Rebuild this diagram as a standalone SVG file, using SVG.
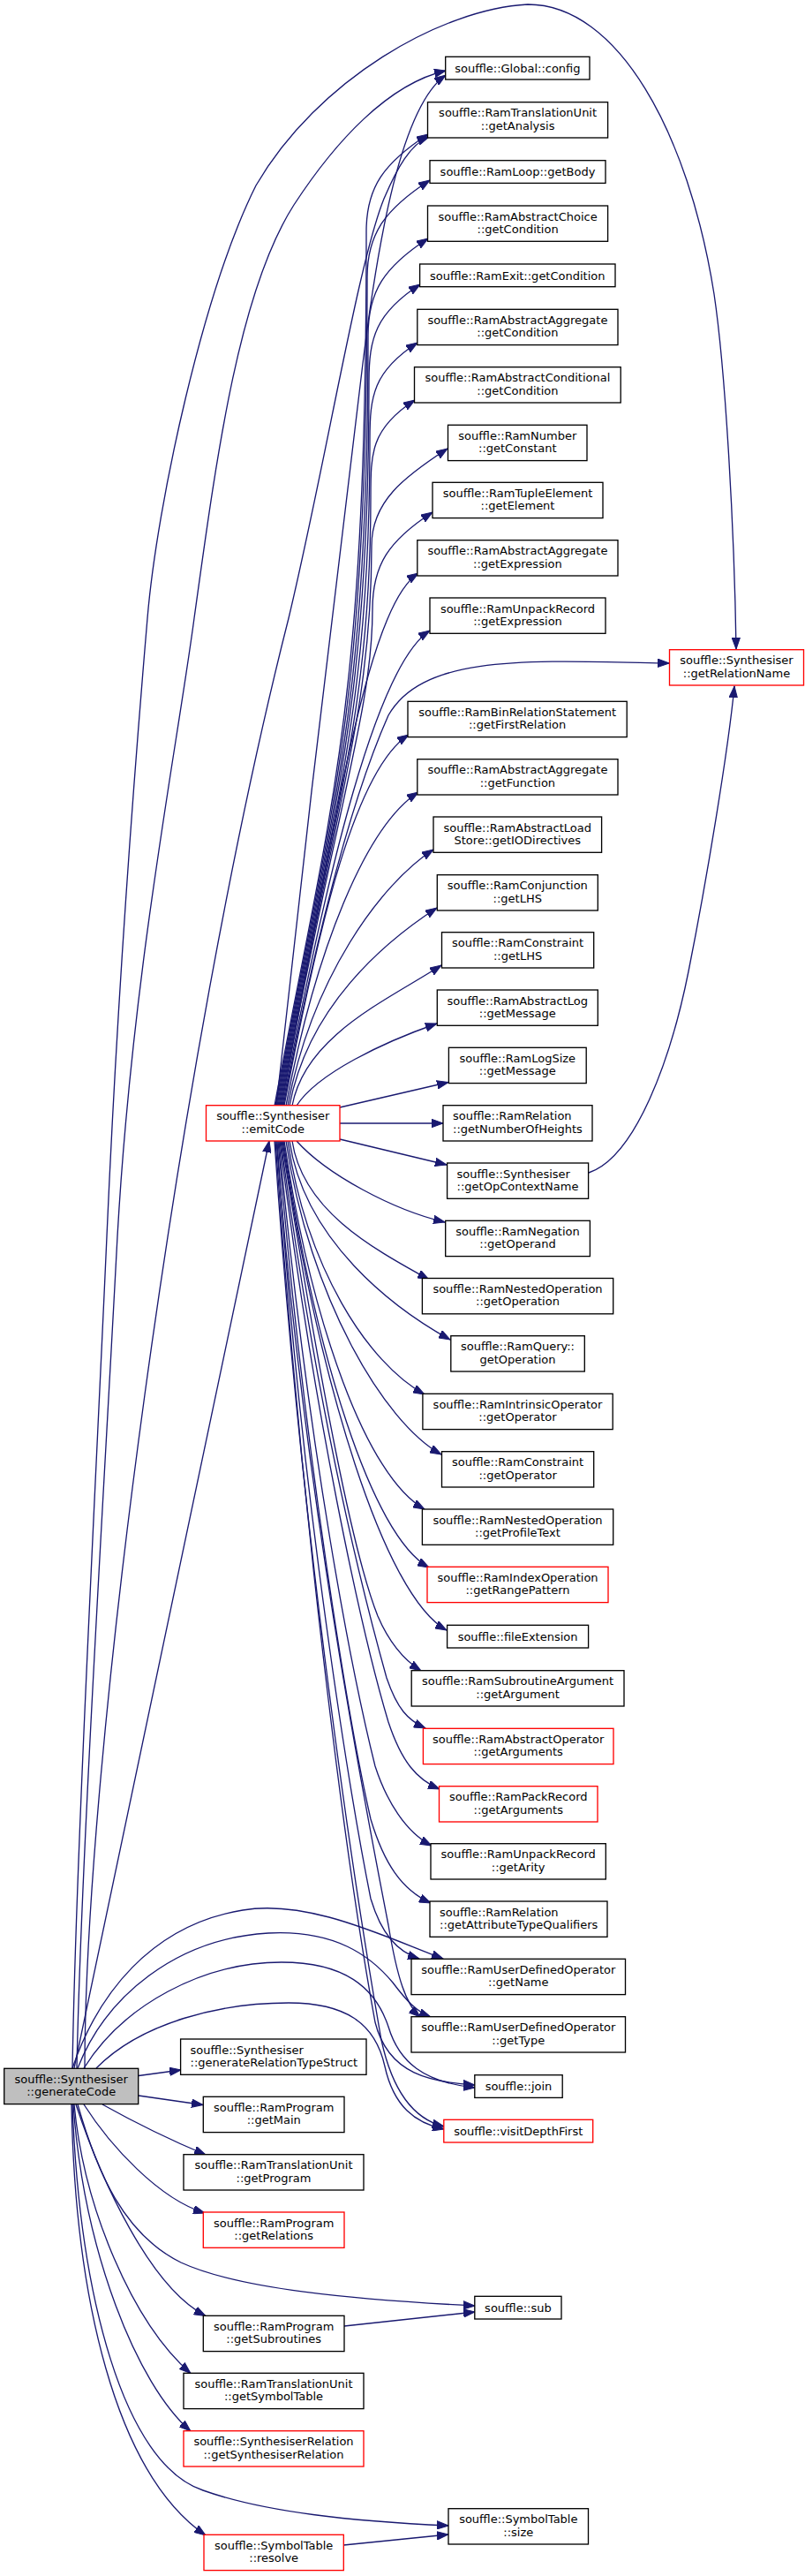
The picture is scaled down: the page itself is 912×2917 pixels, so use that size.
<svg xmlns="http://www.w3.org/2000/svg" width="912" height="2917" viewBox="0 0 912 2917">
<style>
.n rect{fill:#fff;stroke:#000;stroke-width:1.33}
.r rect{stroke:#ff0000}
.g rect{fill:#bfbfbf}
text{font-family:"DejaVu Sans","Liberation Sans",sans-serif;font-size:13px;fill:#000;text-anchor:middle}
.l text{text-anchor:start}
#edges path{fill:none;stroke:#191970;stroke-width:1.33;marker-end:url(#a)}
</style>
<defs>
<marker id="a" markerUnits="userSpaceOnUse" markerWidth="14" markerHeight="10" refX="13" refY="5" orient="auto">
<path d="M0,0.3 L13,5 L0,9.7 z" fill="#191970" stroke="#191970" stroke-width="1"/>
</marker>
</defs>
<rect x="0" y="0" width="912" height="2917" fill="#fff"/>
<g id="edges">
<path d="M82,2342 C86,2100 110,1650 121,1400 C132,1150 150,900 167,700 C178,570 230,330 290,210 C360,90 500,10 598,5 C700,5 780,150 809,333 C822,420 832,600 834,735"/>
<path d="M87,2342 C92,2100 120,1650 133,1400 C150,1100 200,850 220,700 C245,520 270,330 333,232 C380,160 440,95 505,80"/>
<path d="M96,2342 C96,2000 200,1200 327,700 C370,520 405,300 435,225 C450,190 465,163 486,155"/>
<path d="M84,2342 L305,1292"/>
<path d="M82,2342 C110,2260 170,2180 275,2163 C350,2150 440,2195 502,2218"/>
<path d="M88,2342 C120,2260 200,2195 304,2189 C380,2185 420,2215 445,2245 C460,2265 472,2278 488,2284"/>
<path d="M95,2342 C140,2270 230,2222 319,2222 C390,2222 425,2250 440,2295 C452,2335 480,2358 538,2364"/>
<path d="M109,2342 C160,2290 250,2268 327,2268 C390,2268 425,2290 436,2340 C446,2385 470,2404 503,2411"/>
<path d="M157,2350.5 L205,2344"/>
<path d="M157,2373 L230,2383.5"/>
<path d="M116,2383 C150,2402 190,2422 233,2440"/>
<path d="M95,2383 C125,2430 180,2490 232,2506"/>
<path d="M88,2383 C110,2460 140,2530 205,2562 C270,2592 400,2604 538,2611"/>
<path d="M86,2383 C115,2470 170,2590 233,2622.5"/>
<path d="M84,2383 C95,2500 150,2630 216,2687.5"/>
<path d="M83,2383 C95,2550 155,2700 216,2753"/>
<path d="M82,2383 C90,2600 140,2790 230,2820 C300,2845 400,2855 508,2860"/>
<path d="M81,2383 C85,2600 130,2800 233,2871"/>
<path d="M390,2634 L538,2618"/>
<path d="M389.3,2882 L508,2870"/>
<path d="M667,1328 C720,1310 760,1200 780,1100 C800,1000 825,850 832,777"/>
<path d="M313,1252 C340,1000 385,620 410,420 C428,270 455,120 505,85"/>
<path d="M311,1252 C377,902 415,800 415,262 C415,212 435,184.5 485,152"/>
<path d="M312,1252 C378,902 416,800 416,314 C416,264 437,236.5 487,204"/>
<path d="M313,1252 C379,902 417,800 417,380 C417,330 435,302.5 485,270"/>
<path d="M314,1252 C380,902 418,800 418,432 C418,382 426,354.5 476,322"/>
<path d="M315,1252 C381,902 419,800 419,498 C419,448 423,420.5 473,388"/>
<path d="M316,1252 C382,902 420,800 420,563 C420,513 420,485.5 470,453"/>
<path d="M317,1252 C383,902 421,800 421,618 C421,568 457,540.5 507,508"/>
<path d="M318,1252 C384,902 422,800 422,690 C422,640 440,612.5 490,580"/>
<path d="M319,1252 C376,951 414,688 474,649"/>
<path d="M320,1252 C371,983 427,753 487,714"/>
<path d="M321,1252 C360,1050 400,900 440,810 C480,740 600,748 758,751"/>
<path d="M322,1252 C362,1042 403,871 463,832"/>
<path d="M324,1252 C358,1074.5 414,936 474,897"/>
<path d="M326,1252 C353.5,1107 431,1001 491,962"/>
<path d="M328,1252 C349,1140 435,1067 495,1028"/>
<path d="M331,1252 C346,1172 440,1132 500,1093"/>
<path d="M336,1252 C360,1215 435,1180 495,1159"/>
<path d="M385,1254 L508,1225.5"/>
<path d="M385,1272 L502,1272"/>
<path d="M385,1290 L506,1319"/>
<path d="M336,1292 C370,1330 445,1370 504,1384"/>
<path d="M331,1292 C343,1370.5 421,1413 486,1449"/>
<path d="M328,1292 C345,1404.5 445,1481 510,1517"/>
<path d="M326,1292 C347.5,1435.5 416,1543 481,1579"/>
<path d="M324,1292 C350.6,1469.5 435,1611 500,1647"/>
<path d="M322,1292 C353,1500.5 416,1673 481,1709"/>
<path d="M321,1292 C357,1533.5 421,1739 486,1775"/>
<path d="M320,1292 C361.5,1569 436,1807.5 506,1846"/>
<path d="M319,1292 C365,1580 400,1760 428,1830 C440,1858 455,1878 477,1892"/>
<path d="M318,1292 C360,1600 410,1800 438,1900 C450,1935 462,1948 482,1957"/>
<path d="M317,1292 C355,1600 410,1850 440,1950 C455,1995 472,2015 498,2026"/>
<path d="M316,1292 C350,1650 400,1900 425,2000 C438,2040 460,2075 489,2090"/>
<path d="M315,1292 C345,1650 395,1950 420,2060 C435,2110 455,2140 488,2155"/>
<path d="M314,1292 C340,1700 400,2050 420,2150 C432,2190 450,2210 475,2218"/>
<path d="M313,1292 C345,1700 415,2050 440,2180 C450,2240 460,2270 476,2284"/>
<path d="M312,1292 C340,1700 390,2100 425,2290 C440,2350 490,2358 538,2361"/>
<path d="M311,1292 C338,1700 395,2100 432,2310 C445,2370 470,2400 503,2408"/>
</g>
<g id="n_generateCode" class="n g"><rect x="4.7" y="2342.3" width="152" height="40.3"/><text x="80.7" y="2358.8">souffle::Synthesiser</text><text x="80.7" y="2373.1">::generateCode</text></g>
<g id="n_emitCode" class="n r"><rect x="233.5" y="1251.7" width="151.5" height="40.3"/><text x="309.3" y="1268.2">souffle::Synthesiser</text><text x="309.3" y="1282.5">::emitCode</text></g>
<g id="n_genRelTS" class="n l"><rect x="204.6" y="2309" width="210.4" height="40.3"/><text x="215.6" y="2325.5">souffle::Synthesiser</text><text x="215.6" y="2339.8">::generateRelationTypeStruct</text></g>
<g id="n_getMain" class="n"><rect x="230.3" y="2374.3" width="159.7" height="40.3"/><text x="310.2" y="2390.8">souffle::RamProgram</text><text x="310.2" y="2405.1">::getMain</text></g>
<g id="n_getProgram" class="n"><rect x="208" y="2439.7" width="204" height="40.3"/><text x="310" y="2456.2">souffle::RamTranslationUnit</text><text x="310" y="2470.5">::getProgram</text></g>
<g id="n_getRelations" class="n r"><rect x="230.3" y="2505" width="159.7" height="40.3"/><text x="310.2" y="2521.5">souffle::RamProgram</text><text x="310.2" y="2535.8">::getRelations</text></g>
<g id="n_getSubroutines" class="n"><rect x="230.3" y="2622.3" width="159.7" height="40.3"/><text x="310.2" y="2638.8">souffle::RamProgram</text><text x="310.2" y="2653.1">::getSubroutines</text></g>
<g id="n_getSymbolTable" class="n"><rect x="208" y="2687.3" width="204" height="40.3"/><text x="310" y="2703.8">souffle::RamTranslationUnit</text><text x="310" y="2718.1">::getSymbolTable</text></g>
<g id="n_getSynthRel" class="n r"><rect x="208" y="2752.7" width="204" height="40.3"/><text x="310" y="2769.2">souffle::SynthesiserRelation</text><text x="310" y="2783.5">::getSynthesiserRelation</text></g>
<g id="n_resolve" class="n r"><rect x="231" y="2870.3" width="158.3" height="40.3"/><text x="310.2" y="2886.8">souffle::SymbolTable</text><text x="310.2" y="2901.1">::resolve</text></g>
<g id="n_config" class="n"><rect x="504.7" y="64.3" width="163.3" height="25.7"/><text x="586.4" y="81.8">souffle::Global::config</text></g>
<g id="n_getAnalysis" class="n"><rect x="484.5" y="115.7" width="204.1" height="40.3"/><text x="586.6" y="132.2">souffle::RamTranslationUnit</text><text x="586.6" y="146.5">::getAnalysis</text></g>
<g id="n_getBody" class="n"><rect x="487" y="181.7" width="199" height="25.7"/><text x="586.5" y="199.2">souffle::RamLoop::getBody</text></g>
<g id="n_absChoiceCond" class="n"><rect x="484.5" y="233" width="204.1" height="40.3"/><text x="586.6" y="249.5">souffle::RamAbstractChoice</text><text x="586.6" y="263.8">::getCondition</text></g>
<g id="n_exitCond" class="n"><rect x="475.6" y="299" width="221.4" height="25.7"/><text x="586.3" y="316.5">souffle::RamExit::getCondition</text></g>
<g id="n_absAggrCond" class="n"><rect x="472.8" y="350.3" width="227.2" height="40.3"/><text x="586.4" y="366.8">souffle::RamAbstractAggregate</text><text x="586.4" y="381.1">::getCondition</text></g>
<g id="n_absCondCond" class="n"><rect x="469.5" y="415.7" width="233.7" height="40.3"/><text x="586.4" y="432.2">souffle::RamAbstractConditional</text><text x="586.4" y="446.5">::getCondition</text></g>
<g id="n_getConstant" class="n"><rect x="507.5" y="481.3" width="157.5" height="40.3"/><text x="586.3" y="497.8">souffle::RamNumber</text><text x="586.3" y="512.1">::getConstant</text></g>
<g id="n_getElement" class="n"><rect x="490" y="546.3" width="193" height="40.3"/><text x="586.5" y="562.8">souffle::RamTupleElement</text><text x="586.5" y="577.1">::getElement</text></g>
<g id="n_absAggrExpr" class="n"><rect x="472.8" y="611.7" width="227.2" height="40.3"/><text x="586.4" y="628.2">souffle::RamAbstractAggregate</text><text x="586.4" y="642.5">::getExpression</text></g>
<g id="n_unpackExpr" class="n"><rect x="487" y="677" width="199" height="40.3"/><text x="586.5" y="693.5">souffle::RamUnpackRecord</text><text x="586.5" y="707.8">::getExpression</text></g>
<g id="n_getRelationName" class="n r"><rect x="758.5" y="735.7" width="152" height="40.3"/><text x="834.5" y="752.2">souffle::Synthesiser</text><text x="834.5" y="766.5">::getRelationName</text></g>
<g id="n_getFirstRelation" class="n"><rect x="462" y="794.3" width="248.2" height="40.3"/><text x="586.1" y="810.8">souffle::RamBinRelationStatement</text><text x="586.1" y="825.1">::getFirstRelation</text></g>
<g id="n_getFunction" class="n"><rect x="472.8" y="859.7" width="227.2" height="40.3"/><text x="586.4" y="876.2">souffle::RamAbstractAggregate</text><text x="586.4" y="890.5">::getFunction</text></g>
<g id="n_getIODirectives" class="n"><rect x="491" y="925" width="190.6" height="40.3"/><text x="586.3" y="941.5">souffle::RamAbstractLoad</text><text x="586.3" y="955.8">Store::getIODirectives</text></g>
<g id="n_conjLHS" class="n"><rect x="495.3" y="990.7" width="182" height="40.3"/><text x="586.3" y="1007.2">souffle::RamConjunction</text><text x="586.3" y="1021.5">::getLHS</text></g>
<g id="n_constrLHS" class="n"><rect x="500.5" y="1055.7" width="172.2" height="40.3"/><text x="586.6" y="1072.2">souffle::RamConstraint</text><text x="586.6" y="1086.5">::getLHS</text></g>
<g id="n_absLogMsg" class="n"><rect x="495.3" y="1121" width="182" height="40.3"/><text x="586.3" y="1137.5">souffle::RamAbstractLog</text><text x="586.3" y="1151.8">::getMessage</text></g>
<g id="n_logSizeMsg" class="n"><rect x="508.4" y="1186.3" width="155.8" height="40.3"/><text x="586.3" y="1202.8">souffle::RamLogSize</text><text x="586.3" y="1217.1">::getMessage</text></g>
<g id="n_numHeights" class="n l"><rect x="502" y="1251.7" width="169" height="40.3"/><text x="513" y="1268.2">souffle::RamRelation</text><text x="513" y="1282.5">::getNumberOfHeights</text></g>
<g id="n_opContext" class="n l"><rect x="506.6" y="1317" width="160" height="40.3"/><text x="517.6" y="1333.5">souffle::Synthesiser</text><text x="517.6" y="1347.8">::getOpContextName</text></g>
<g id="n_getOperand" class="n"><rect x="504.7" y="1382.3" width="163.7" height="40.3"/><text x="586.5" y="1398.8">souffle::RamNegation</text><text x="586.5" y="1413.1">::getOperand</text></g>
<g id="n_nestedOp" class="n"><rect x="478.4" y="1447.5" width="216.3" height="40.3"/><text x="586.5" y="1464">souffle::RamNestedOperation</text><text x="586.5" y="1478.3">::getOperation</text></g>
<g id="n_queryOp" class="n"><rect x="510.8" y="1512.7" width="151.5" height="40.3"/><text x="586.5" y="1529.2">souffle::RamQuery::</text><text x="586.5" y="1543.5">getOperation</text></g>
<g id="n_intrOp" class="n"><rect x="478.9" y="1578.3" width="215.3" height="40.3"/><text x="586.5" y="1594.8">souffle::RamIntrinsicOperator</text><text x="586.5" y="1609.1">::getOperator</text></g>
<g id="n_constrOp" class="n"><rect x="500.5" y="1643.7" width="172.2" height="40.3"/><text x="586.6" y="1660.2">souffle::RamConstraint</text><text x="586.6" y="1674.5">::getOperator</text></g>
<g id="n_profileText" class="n"><rect x="478.4" y="1709" width="216.3" height="40.3"/><text x="586.5" y="1725.5">souffle::RamNestedOperation</text><text x="586.5" y="1739.8">::getProfileText</text></g>
<g id="n_rangePattern" class="n r"><rect x="484" y="1774.3" width="205" height="40.3"/><text x="586.5" y="1790.8">souffle::RamIndexOperation</text><text x="586.5" y="1805.1">::getRangePattern</text></g>
<g id="n_fileExt" class="n"><rect x="506.6" y="1840.3" width="160" height="25.7"/><text x="586.6" y="1857.8">souffle::fileExtension</text></g>
<g id="n_getArgument" class="n"><rect x="466.2" y="1891.7" width="240.8" height="40.3"/><text x="586.6" y="1908.2">souffle::RamSubroutineArgument</text><text x="586.6" y="1922.5">::getArgument</text></g>
<g id="n_absOpArgs" class="n r"><rect x="479.4" y="1957.3" width="215.6" height="40.3"/><text x="587.2" y="1973.8">souffle::RamAbstractOperator</text><text x="587.2" y="1988.1">::getArguments</text></g>
<g id="n_packArgs" class="n r"><rect x="497.5" y="2022.7" width="179.5" height="40.3"/><text x="587.3" y="2039.2">souffle::RamPackRecord</text><text x="587.3" y="2053.5">::getArguments</text></g>
<g id="n_getArity" class="n"><rect x="488" y="2087.7" width="198.3" height="40.3"/><text x="587.2" y="2104.2">souffle::RamUnpackRecord</text><text x="587.2" y="2118.5">::getArity</text></g>
<g id="n_attrTQ" class="n l"><rect x="487" y="2153" width="201" height="40.3"/><text x="498" y="2169.5">souffle::RamRelation</text><text x="498" y="2183.8">::getAttributeTypeQualifiers</text></g>
<g id="n_getName" class="n"><rect x="466" y="2218.3" width="242.5" height="40.3"/><text x="587.3" y="2234.8">souffle::RamUserDefinedOperator</text><text x="587.3" y="2249.1">::getName</text></g>
<g id="n_getType" class="n"><rect x="466" y="2283.7" width="242.5" height="40.3"/><text x="587.3" y="2300.2">souffle::RamUserDefinedOperator</text><text x="587.3" y="2314.5">::getType</text></g>
<g id="n_join" class="n"><rect x="537.8" y="2349.7" width="99.4" height="25.7"/><text x="587.5" y="2367.2">souffle::join</text></g>
<g id="n_visitDF" class="n r"><rect x="502.8" y="2400.3" width="168.9" height="25.7"/><text x="587.3" y="2417.8">souffle::visitDepthFirst</text></g>
<g id="n_sub" class="n"><rect x="537.8" y="2600.3" width="98.2" height="25.7"/><text x="586.9" y="2617.8">souffle::sub</text></g>
<g id="n_size" class="n"><rect x="508" y="2840.7" width="158.5" height="40.3"/><text x="587.3" y="2857.2">souffle::SymbolTable</text><text x="587.3" y="2871.5">::size</text></g>
</svg>
